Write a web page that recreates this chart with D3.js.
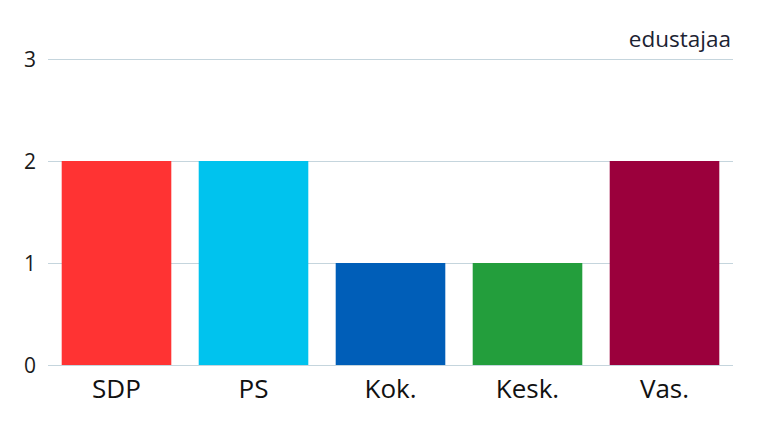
<!DOCTYPE html>
<html>
<head>
<meta charset="utf-8">
<script src="https://cdn.jsdelivr.net/npm/d3@7"></script>
<style>
  body { margin: 0; background: #fff; }
  text { font-family: "Open Sans", sans-serif; }
</style>
</head>
<body>
<div id="chart"></div>
<script>
// data
var parties = ["SDP", "PS", "Kok.", "Kesk.", "Vas."];
var seats = [2, 2, 1, 1, 2];
var partyColors = ["#ff3333", "#00c3ee", "#005eb8", "#239e3c", "#9b003c"];
var yTicks = [0, 1, 2, 3];
var unitLabel = "edustajaa";

var width = 767, height = 431;
var margin = { top: 59, right: 34, bottom: 66, left: 48 };

var svg = d3.select("#chart").append("svg")
    .attr("width", width)
    .attr("height", height);

var x = d3.scaleBand()
    .domain(parties)
    .range([margin.left, width - margin.right])
    .paddingInner(0.2)
    .paddingOuter(0.1);

var y = d3.scaleLinear()
    .domain([0, 3])
    .range([height - margin.bottom, margin.top]);

// gridlines
svg.append("g")
    .selectAll("line")
    .data(yTicks)
    .join("line")
    .attr("x1", margin.left)
    .attr("x2", width - margin.right)
    .attr("y1", function(d) { return y(d) + 0.5; })
    .attr("y2", function(d) { return y(d) + 0.5; })
    .attr("stroke", "#c5d5dd")
    .attr("stroke-width", 1);

// y tick labels
svg.append("g")
    .selectAll("text")
    .data(yTicks)
    .join("text")
    .attr("x", 30)
    .attr("y", function(d) { return y(d); })
    .attr("dy", "0.36em")
    .attr("text-anchor", "middle")
    .attr("font-size", 21)
    .attr("fill", "#1a1a1a")
    .text(function(d) { return d; });

// bars
svg.append("g")
    .selectAll("rect")
    .data(parties)
    .join("rect")
    .attr("x", function(d) { return x(d); })
    .attr("width", x.bandwidth())
    .attr("y", function(d, i) { return y(seats[i]); })
    .attr("height", function(d, i) { return y(0) - y(seats[i]); })
    .attr("fill", function(d, i) { return partyColors[i]; });

// x labels
svg.append("g")
    .selectAll("text")
    .data(parties)
    .join("text")
    .attr("x", function(d) { return x(d) + x.bandwidth() / 2; })
    .attr("y", 398)
    .attr("text-anchor", "middle")
    .attr("font-size", 26)
    .attr("fill", "#111")
    .text(function(d) { return d; });

// unit label
svg.append("text")
    .attr("x", 731)
    .attr("y", 47)
    .attr("text-anchor", "end")
    .attr("font-size", 22.5)
    .attr("fill", "#1c2333")
    .text(unitLabel);
</script>
</body>
</html>
